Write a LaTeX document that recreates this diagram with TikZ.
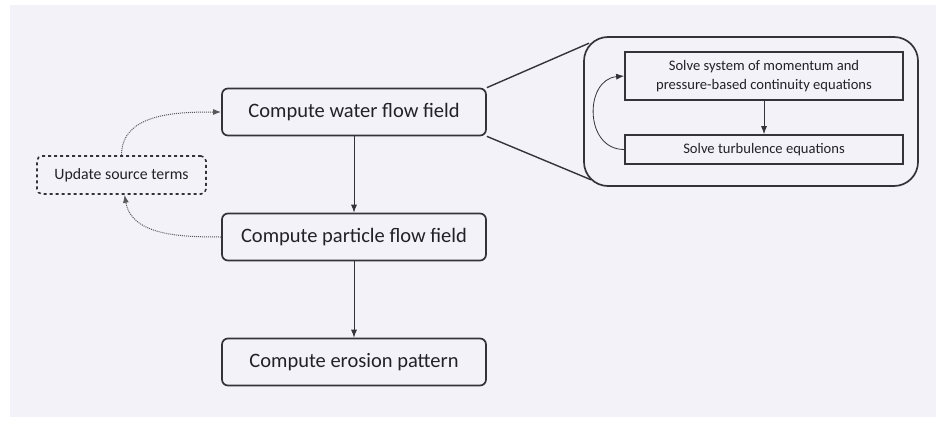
\documentclass[tikz,border=0pt]{standalone}
\usepackage{fontspec}
\setmainfont{Carlito}
\usepackage{tikz}
\usetikzlibrary{positioning, arrows.meta, calc}

\definecolor{bgcol}{RGB}{242,242,248}
\definecolor{linecol}{RGB}{52,52,56}
\definecolor{txtcol}{RGB}{34,34,38}

\tikzset{
  stage/.style={draw=linecol, line width=1.7pt, rounded corners=6pt, fill=bgcol,
    minimum width=264pt, minimum height=47pt, text=txtcol, font=\fontsize{20.5}{24}\selectfont},
  substep/.style={draw=linecol, line width=1.7pt, fill=bgcol, minimum width=278pt,
    text=txtcol, align=center, font=\fontsize{14.6}{19}\selectfont},
  flow/.style={-{Latex[length=8pt,width=6pt]}, linecol, line width=0.8pt},
  feedback/.style={-{Latex[length=8pt,width=6pt]}, gray!70!black, line width=1pt, densely dotted}
}

\begin{document}
\begin{tikzpicture}[x=1pt, y=-1pt]
    % Canvas
    \useasboundingbox (0, 0) rectangle (936, 425);
    \fill [bgcol] (10, 5) rectangle (936, 417);
    % Main stages
    \node [stage] (water) at (354, 112) {Compute water flow field};
    \node [stage] (particle) at (354, 237) {Compute particle flow field};
    \node [stage] (erosion) at (354, 362) {Compute erosion pattern};
    % Coupling step
    \node [draw=linecol, line width=1.6pt, dashed, rounded corners=5pt, minimum width=169pt,
      minimum height=38pt, text=txtcol, font=\fontsize{15.8}{18}\selectfont] (update) at (121.5, 175) {Update source terms};
    % Detail of water solver
    \node [draw=linecol, line width=1.7pt, rounded corners=24pt, minimum width=334pt,
      minimum height=149pt] (detail) at (751, 111.5) {};
    \node [substep, minimum height=48pt] (solve) at (764, 76) {Solve system of momentum and\\pressure-based continuity equations};
    \node [substep, minimum height=29pt] (turb) at (764, 149.5) {Solve turbulence equations};
    % Zoom lines
    \coordinate (zoomtop) at ($(detail.north west)+(6, 7)$);
    \coordinate (zoombot) at ($(detail.south west)+(8, -7)$);
    \draw [linecol, line width=1.4pt] (water.north east) -- (zoomtop);
    \draw [linecol, line width=1.4pt] (water.south east) -- (zoombot);
    % Arrows
    \draw [flow] (water) -- (particle);
    \draw [flow] (particle) -- (erosion);
    \draw [flow] (solve) -- (turb);
    \draw [flow] (turb.west) to [out=180, in=185, looseness=1.4] (solve.west);
    % Feedback loop
    \draw [feedback] (update.north) to [out=90, in=180] (water.west);
    \draw [feedback] (particle.west) to [out=180, in=-80] ($(update.south)+(3, 0)$);
\end{tikzpicture}
\end{document}
